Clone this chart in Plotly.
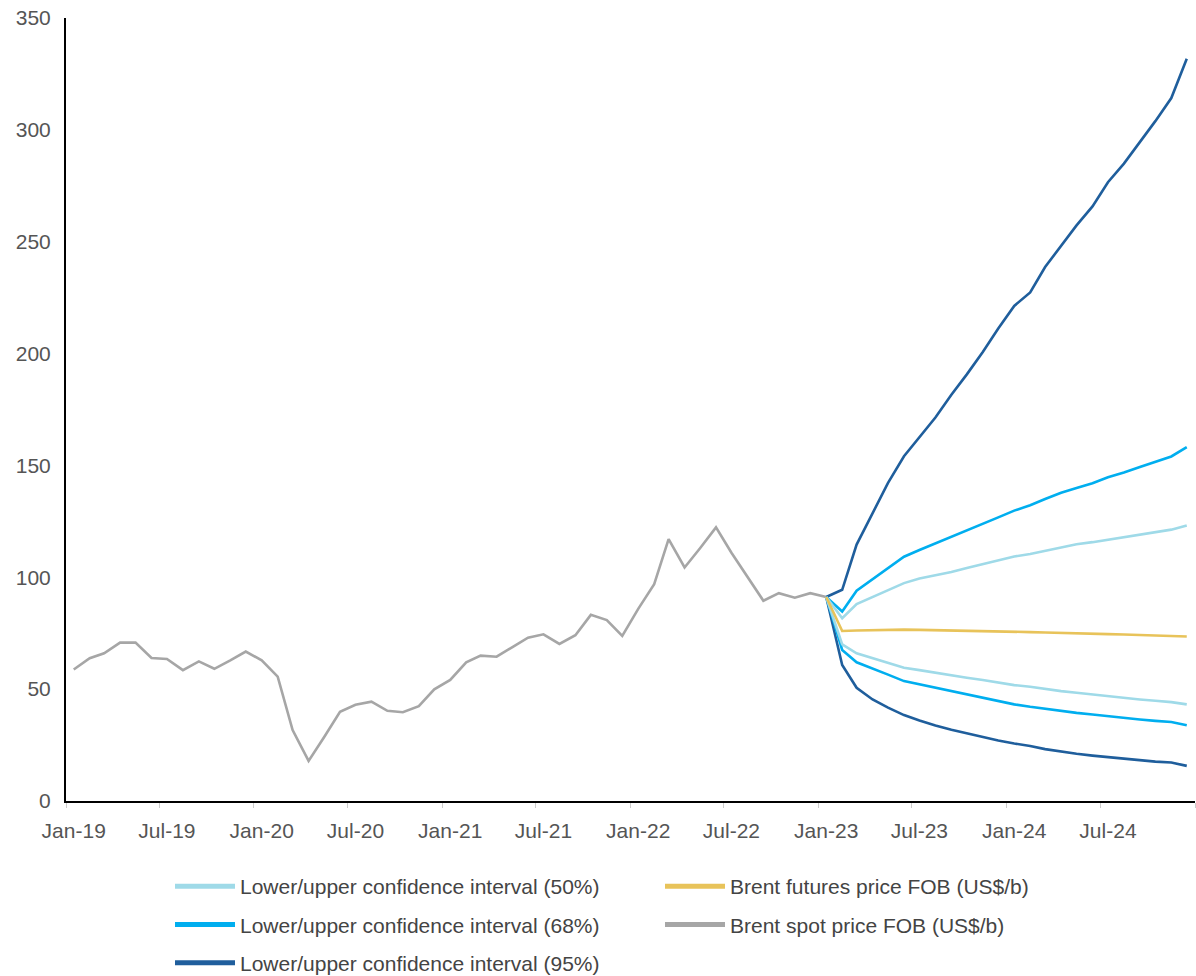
import pandas as pd
import plotly.graph_objects as go

# ---- data ----
tick_labels = ["Jan-19", "Jul-19", "Jan-20", "Jul-20", "Jan-21", "Jul-21",
               "Jan-22", "Jul-22", "Jan-23", "Jul-23", "Jan-24", "Jul-24"]

spot_months = pd.date_range("2019-01-01", "2023-01-01", freq="MS")
spot = [58.8, 63.8, 66.0, 70.8, 70.8, 63.9, 63.5, 58.5, 62.4, 59.1, 62.9, 66.8,
        62.9, 55.6, 31.7, 17.9, 28.5, 39.9, 43.0, 44.4, 40.3, 39.7, 42.4, 49.9,
        54.1, 62.0, 65.0, 64.5, 68.7, 73.0, 74.5, 70.2, 74.1, 83.2, 80.9, 73.8,
        85.9, 96.9, 117.1, 104.4, 113.0, 122.3, 111.0, 100.4, 89.5, 92.9, 90.9, 92.9,
        91.2]

fc_months = pd.date_range("2023-01-01", "2024-12-01", freq="MS")
futures = [91.2, 76.0, 76.2, 76.4, 76.6, 76.6, 76.5, 76.4, 76.3, 76.1, 76.0, 75.9,
           75.7, 75.5, 75.3, 75.2, 75.0, 74.8, 74.6, 74.4, 74.2, 74.0, 73.8, 73.5]
ci50_upper = [91.2, 81.7, 88.0, 91.1, 94.2, 97.4, 99.5, 100.8, 102.4, 104.2, 105.9, 107.7,
              109.3, 110.4, 111.9, 113.5, 114.8, 115.7, 116.8, 117.8, 119.0, 120.1, 121.3, 123.2]
ci50_lower = [91.2, 70.0, 66.0, 63.9, 61.8, 59.6, 58.5, 57.3, 56.3, 55.1, 54.1, 52.9,
              51.8, 51.1, 50.0, 49.1, 48.4, 47.6, 46.9, 46.1, 45.4, 44.8, 44.2, 43.2]
ci68_upper = [91.2, 84.7, 94.0, 99.0, 104.1, 109.2, 112.2, 115.1, 118.3, 121.1, 124.0, 126.8,
              129.8, 132.2, 135.0, 137.8, 139.9, 142.0, 144.7, 146.8, 149.3, 151.7, 154.0, 158.2]
ci68_lower = [91.2, 67.5, 62.0, 59.3, 56.5, 53.6, 52.1, 50.6, 49.1, 47.6, 46.1, 44.7,
              43.2, 42.1, 41.2, 40.3, 39.4, 38.7, 37.9, 37.2, 36.4, 35.8, 35.3, 33.9]
ci95_upper = [91.2, 94.4, 114.6, 128.7, 142.2, 154.1, 162.6, 171.4, 181.6, 190.7, 200.7, 211.2,
              221.3, 227.3, 238.7, 248.1, 257.3, 265.8, 276.6, 284.9, 294.4, 303.9, 314.2, 331.8]
ci95_lower = [91.2, 60.8, 50.6, 45.4, 41.7, 38.4, 36.0, 33.7, 31.8, 30.2, 28.5, 27.0,
              25.7, 24.6, 23.2, 22.0, 21.1, 20.3, 19.6, 18.8, 18.2, 17.6, 17.2, 15.7]

# ---- styles ----
C50 = "#9FDAE8"
C68 = "#00AEEF"
C95 = "#1F5E9C"
CFUT = "#E8C35A"
CSPOT = "#A6A6A6"
FONT = "Liberation Sans, Arial, sans-serif"
LW = 2.6
FS = 21

mid = pd.Timedelta(days=15)
sx = spot_months + mid
fx = fc_months + mid

fig = go.Figure()

def data_line(x, y, color, name):
    fig.add_trace(go.Scatter(x=x, y=y, mode="lines", name=name, showlegend=False,
                             line=dict(color=color, width=LW), hoverinfo="x+y"))

data_line(sx, spot, CSPOT, "Brent spot price FOB (US$/b)")
data_line(fx, ci95_upper, C95, "Upper confidence interval (95%)")
data_line(fx, ci95_lower, C95, "Lower confidence interval (95%)")
data_line(fx, ci68_upper, C68, "Upper confidence interval (68%)")
data_line(fx, ci68_lower, C68, "Lower confidence interval (68%)")
data_line(fx, ci50_upper, C50, "Upper confidence interval (50%)")
data_line(fx, ci50_lower, C50, "Lower confidence interval (50%)")
data_line(fx, futures, CFUT, "Brent futures price FOB (US$/b)")

# legend-only entries (thicker swatches)
def legend_entry(name, color, legend, group):
    fig.add_trace(go.Scatter(x=[None], y=[None], mode="lines", name=name,
                             legend=legend, legendgroup=group,
                             line=dict(color=color, width=5)))

legend_entry("Lower/upper confidence interval (50%)", C50, "legend", "a")
legend_entry("Lower/upper confidence interval (68%)", C68, "legend", "b")
legend_entry("Lower/upper confidence interval (95%)", C95, "legend", "c")
legend_entry("Brent futures price FOB (US$/b)", CFUT, "legend2", "d")
legend_entry("Brent spot price FOB (US$/b)", CSPOT, "legend2", "e")

# tick marks at month boundaries, labels centred on the labelled month
tick_marks = pd.date_range("2019-01-01", "2025-01-01", freq="6MS")
label_pos = pd.date_range("2019-01-01", "2024-07-01", freq="6MS") + mid

legend_common = dict(orientation="v", yanchor="top", xanchor="left",
                     font=dict(family=FONT, size=FS, color="#444444"),
                     bgcolor="rgba(0,0,0,0)", tracegroupgap=8, itemwidth=60,
                     traceorder="grouped")

fig.update_layout(
    width=1196, height=976,
    margin=dict(l=66, r=1, t=18, b=175, autoexpand=False),
    plot_bgcolor="white", paper_bgcolor="white",
    font=dict(family=FONT, size=FS, color="#555555"),
    xaxis=dict(type="date", range=["2019-01-01", "2025-01-01"],
               tickvals=label_pos, ticktext=tick_labels,
               showgrid=False, zeroline=False,
               showline=True, linecolor="#000000", linewidth=2,
               ticks="", ticklabelstandoff=10, ticklabeloverflow="allow",
               minor=dict(tickvals=tick_marks, ticks="outside", ticklen=5,
                          tickcolor="#CCCCCC", tickwidth=1, showgrid=False),
               tickfont=dict(family=FONT, size=FS, color="#555555")),
    yaxis=dict(range=[0, 350], tickvals=[0, 50, 100, 150, 200, 250, 300, 350],
               showgrid=False, zeroline=False,
               showline=True, linecolor="#000000", linewidth=2,
               ticks="", ticklabelstandoff=9, ticklabeloverflow="allow",
               tickfont=dict(family=FONT, size=FS, color="#555555")),
    legend=dict(x=(170 - 66) / 1129, y=-0.083, **legend_common),
    legend2=dict(x=(660 - 66) / 1129, y=-0.083, **legend_common),
    hovermode="closest",
)

fig.write_html("out.html",
               config={"displayModeBar": False},
               post_script="document.body.style.margin='0';document.body.style.overflow='hidden';")
